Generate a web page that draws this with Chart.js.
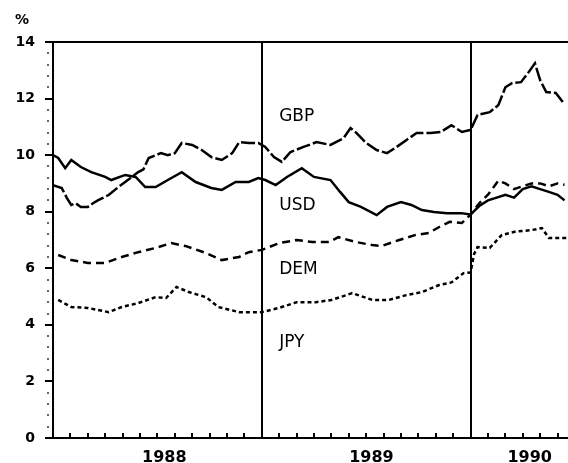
<!DOCTYPE html>
<html>
<head>
<meta charset="utf-8">
<script src="https://cdn.jsdelivr.net/npm/chart.js@4/dist/chart.umd.min.js"></script>
<style>
  html, body { margin: 0; padding: 0; background: #fff; }
  #wrap { width: 568px; height: 463px; position: relative; }
</style>
</head>
<body>
<div id="wrap"><canvas id="rateChart"></canvas></div>
<script>
// months counted from January 1988
const gbpMonths = [0, 0.5, 0.8, 1.05, 1.3, 1.6, 2.0, 2.3, 2.6, 3.2, 3.75, 4.3, 4.9, 5.2, 5.5, 6.2, 6.6, 7.0, 7.4, 8.0, 8.55, 9.1, 9.7, 10.3, 10.7, 11.25, 11.8, 12.2, 12.7, 13.15, 13.65, 14.4, 15.15, 15.95, 16.7, 17.1, 17.45, 18.0, 18.6, 19.2, 19.75, 20.3, 20.9, 21.7, 22.3, 22.9, 23.5, 24.0, 24.4, 25.1, 25.6, 26.0, 26.4, 26.9, 27.3, 27.7, 28.0, 28.35, 28.9, 29.3];
const gbpValues = [8.94, 8.84, 8.48, 8.24, 8.3, 8.17, 8.17, 8.3, 8.41, 8.59, 8.87, 9.12, 9.4, 9.5, 9.9, 10.07, 10.0, 10.07, 10.43, 10.36, 10.18, 9.93, 9.83, 10.07, 10.46, 10.43, 10.43, 10.29, 9.93, 9.76, 10.11, 10.29, 10.46, 10.36, 10.6, 10.96, 10.78, 10.43, 10.18, 10.07, 10.29, 10.53, 10.78, 10.78, 10.82, 11.06, 10.82, 10.89, 11.42, 11.52, 11.77, 12.4, 12.55, 12.58, 12.9, 13.25, 12.65, 12.23, 12.2, 11.88];

const usdMonths = [0, 0.3, 0.7, 1.05, 1.6, 2.2, 3.0, 3.35, 4.15, 4.75, 5.3, 5.9, 6.6, 7.4, 8.2, 9.1, 9.7, 10.5, 11.25, 11.8, 12.2, 12.8, 13.45, 14.3, 15.0, 15.95, 16.5, 17.0, 17.7, 18.6, 19.2, 20.0, 20.6, 21.2, 21.9, 22.65, 23.45, 24.0, 24.5, 25.0, 25.5, 26.0, 26.5, 27.0, 27.5, 28.0, 28.5, 29.0, 29.4];
const usdValues = [10.0, 9.9, 9.54, 9.83, 9.58, 9.4, 9.23, 9.12, 9.3, 9.23, 8.87, 8.87, 9.12, 9.4, 9.05, 8.84, 8.77, 9.05, 9.05, 9.19, 9.12, 8.94, 9.23, 9.54, 9.23, 9.12, 8.7, 8.34, 8.17, 7.88, 8.17, 8.34, 8.24, 8.06, 7.99, 7.95, 7.95, 7.9, 8.2, 8.4, 8.5, 8.6, 8.5, 8.8, 8.9, 8.8, 8.7, 8.6, 8.4];

const demMonths = [0.3, 1.05, 2.0, 3.0, 3.95, 4.9, 5.9, 6.8, 7.6, 8.8, 9.7, 10.7, 11.25, 12.0, 13.0, 14.0, 14.9, 15.9, 16.4, 17.4, 18.35, 18.9, 19.9, 20.85, 21.6, 22.2, 22.8, 23.5, 24.0, 24.5, 25.0, 25.6, 26.0, 26.5, 27.0, 27.5, 28.0, 28.5, 29.0, 29.4];
const demValues = [6.47, 6.29, 6.19, 6.19, 6.4, 6.57, 6.72, 6.89, 6.79, 6.54, 6.29, 6.4, 6.57, 6.65, 6.89, 7.0, 6.93, 6.93, 7.1, 6.93, 6.82, 6.79, 7.0, 7.18, 7.25, 7.46, 7.64, 7.6, 7.9, 8.3, 8.6, 9.1, 9.0, 8.8, 8.9, 9.0, 9.0, 8.9, 9.0, 8.95];

const jpyMonths = [0.3, 1.05, 2.0, 3.2, 3.95, 4.9, 5.9, 6.5, 7.1, 7.8, 8.8, 9.5, 10.7, 12.0, 13.0, 14.0, 15.1, 16.0, 17.2, 18.35, 19.3, 20.3, 21.2, 22.2, 22.9, 23.6, 24.0, 24.2, 24.4, 25.1, 25.8, 26.6, 27.5, 28.1, 28.5, 29.5];
const jpyValues = [4.88, 4.63, 4.6, 4.45, 4.63, 4.77, 4.98, 4.95, 5.34, 5.16, 4.98, 4.63, 4.45, 4.45, 4.6, 4.8, 4.8, 4.88, 5.12, 4.88, 4.88, 5.05, 5.16, 5.41, 5.5, 5.83, 5.85, 6.5, 6.75, 6.72, 7.18, 7.3, 7.35, 7.42, 7.07, 7.07];

const seriesNames = ["GBP", "USD", "DEM", "JPY"];
const yearLabels = ["1988", "1989", "1990"];
const yearLabelMonths = [6.4, 18.3, 27.4];
const yearBreaks = [12, 24];
const yTicks = [0, 2, 4, 6, 8, 10, 12, 14];

function pts(xs, ys) {
  return xs.map((x, i) => ({ x: x, y: ys[i] }));
}

// where the series names sit, in data units
const nameSpots = [
  { x: 13.0, y: 11.38 },
  { x: 13.0, y: 8.2 },
  { x: 13.0, y: 5.97 },
  { x: 13.0, y: 3.39 }
];

const decorPlugin = {
  id: "decor",
  afterDraw(chart) {
    const c = chart.ctx;
    const xs = chart.scales.x;
    const ys = chart.scales.y;
    const area = chart.chartArea;
    c.save();
    c.strokeStyle = "#000";
    c.fillStyle = "#000";

    // top frame line
    c.lineWidth = 2;
    c.beginPath();
    c.moveTo(area.left, area.top);
    c.lineTo(area.right, area.top);
    c.stroke();

    // year separators
    yearBreaks.forEach((m) => {
      const px = Math.round(xs.getPixelForValue(m));
      c.beginPath();
      c.moveTo(px, area.top);
      c.lineTo(px, area.bottom);
      c.stroke();
    });

    // monthly ticks pointing up
    c.lineWidth = 2;
    for (let m = 1; m < xs.max; m++) {
      if (yearBreaks.includes(m)) continue;
      const px = Math.round(xs.getPixelForValue(m));
      c.beginPath();
      c.moveTo(px, area.bottom);
      c.lineTo(px, area.bottom - 5);
      c.stroke();
    }

    // small dotted minor ticks on the y axis
    c.fillStyle = "#666";
    for (let v = 0.4; v < 14; v += 0.4) {
      if (Math.abs(v / 2 - Math.round(v / 2)) < 0.01) continue;
      const py = Math.round(ys.getPixelForValue(v));
      c.fillRect(area.left - 6, py - 1, 2, 2);
    }

    // series names
    c.fillStyle = "#000";
    c.font = "17px 'DejaVu Sans'";
    c.textAlign = "left";
    c.textBaseline = "middle";
    seriesNames.forEach((n, i) => {
      c.fillText(n, xs.getPixelForValue(nameSpots[i].x), ys.getPixelForValue(nameSpots[i].y));
    });

    // unit
    c.font = "bold 14px 'DejaVu Sans'";
    c.fillText("%", area.left - 38, area.top - 22);
    c.restore();
  }
};

const ctx = document.getElementById("rateChart").getContext("2d");
new Chart(ctx, {
  type: "line",
  data: {
    datasets: [
      { label: "GBP", data: pts(gbpMonths, gbpValues), borderDash: [14, 3] },
      { label: "USD", data: pts(usdMonths, usdValues), borderDash: [] },
      { label: "DEM", data: pts(demMonths, demValues), borderDash: [8, 5] },
      { label: "JPY", data: pts(jpyMonths, jpyValues), borderDash: [4, 3] }
    ].map((d) => Object.assign(d, {
      borderColor: "#000",
      borderWidth: 2.5,
      pointRadius: 0,
      tension: 0,
      fill: false
    }))
  },
  options: {
    responsive: true,
    maintainAspectRatio: false,
    animation: false,
    layout: { padding: { top: 42, right: 0, left: 0, bottom: 0 } },
    plugins: {
      legend: { display: false },
      tooltip: { enabled: false }
    },
    scales: {
      x: {
        type: "linear",
        min: 0,
        max: 29.6,
        afterBuildTicks: (axis) => {
          axis.ticks = yearLabelMonths.map((v) => ({ value: v }));
        },
        afterFit: (axis) => { axis.height = 25; },
        grid: { display: false },
        border: { display: true, color: "#000", width: 2 },
        ticks: {
          autoSkip: false,
          maxRotation: 0,
          padding: 2,
          color: "#000",
          font: { family: "DejaVu Sans", size: 16, weight: "bold" },
          callback: (v, i) => yearLabels[i]
        }
      },
      y: {
        min: 0,
        max: 14,
        afterBuildTicks: (axis) => {
          axis.ticks = yTicks.map((v) => ({ value: v }));
        },
        afterFit: (axis) => { axis.width = 53; },
        grid: { drawOnChartArea: false, tickLength: 8, color: "#000", lineWidth: 2 },
        border: { display: true, color: "#000", width: 2 },
        ticks: {
          padding: 10,
          color: "#000",
          font: { family: "DejaVu Sans", size: 14, weight: "bold" }
        }
      }
    }
  },
  plugins: [decorPlugin]
});
</script>
</body>
</html>
